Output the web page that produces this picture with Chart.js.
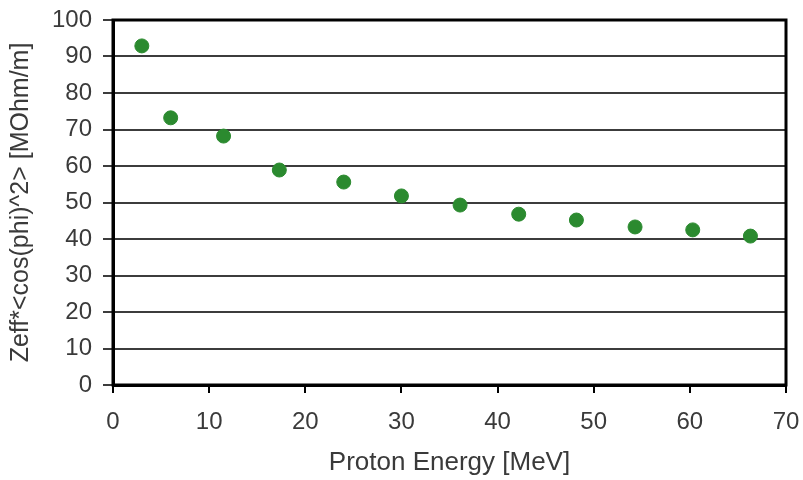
<!DOCTYPE html>
<html>
<head>
<meta charset="utf-8">
<script src="https://cdn.jsdelivr.net/npm/chart.js@4"></script>
<style>
  html, body { margin: 0; padding: 0; background: #fff; }
  #wrap { width: 803px; height: 480px; }
</style>
</head>
<body>
<div id="wrap"><canvas id="chart" width="803" height="480"></canvas></div>
<script>
// proton energy [MeV] vs shunt impedance
const energies = [3.0, 6.0, 11.5, 17.3, 24.0, 30.0, 36.1, 42.2, 48.2, 54.3, 60.3, 66.3];
const zeffValues = [92.9, 73.2, 68.2, 58.9, 55.6, 51.8, 49.3, 46.8, 45.2, 43.3, 42.5, 40.8];
const xTicks = [0, 10, 20, 30, 40, 50, 60, 70];
const yTicks = [0, 10, 20, 30, 40, 50, 60, 70, 80, 90, 100];

const textColor = '#3a3a3a';
const fontFamily = '"Liberation Sans", Arial, sans-serif';

// black frame around the plot area
const framePlugin = {
    id: 'frame',
    afterDraw(chart) {
        const a = chart.chartArea;
        const ctx = chart.ctx;
        ctx.save();
        ctx.strokeStyle = '#000';
        ctx.lineWidth = 3;
        ctx.strokeRect(a.left, a.top, a.right - a.left, a.bottom - a.top);
        ctx.restore();
    }
};

// keep the label overhang from shifting the plot area
function noOverhang(scale) {
    scale.paddingTop = 0;
    scale.paddingBottom = 0;
    scale.paddingLeft = 0;
    scale.paddingRight = 0;
}

const ctx = document.getElementById('chart').getContext('2d');
new Chart(ctx, {
    type: 'scatter',
    data: {
        datasets: [{
            data: energies.map((x, i) => ({ x: x, y: zeffValues[i] })),
            backgroundColor: '#2b8a2f',
            borderColor: '#2b8a2f',
            pointRadius: 7,
            pointHoverRadius: 7
        }]
    },
    options: {
        responsive: false,
        animation: false,
        layout: { padding: { left: 6, top: 20, right: 17, bottom: 2 } },
        plugins: {
            legend: { display: false },
            tooltip: { enabled: false }
        },
        scales: {
            x: {
                type: 'linear',
                min: 0,
                max: 70,
                afterBuildTicks: scale => { scale.ticks = xTicks.map(v => ({ value: v })); },
                afterFit: scale => { scale.height = 93; noOverhang(scale); },
                grid: {
                    drawOnChartArea: false,
                    drawTicks: true,
                    tickLength: 8,
                    color: '#000',
                    lineWidth: 2
                },
                border: { display: true, color: '#000', width: 3 },
                ticks: {
                    color: textColor,
                    font: { family: fontFamily, size: 24 },
                    padding: 15,
                    maxRotation: 0
                },
                title: {
                    display: true,
                    text: 'Proton Energy [MeV]',
                    color: textColor,
                    font: { family: fontFamily, size: 26 },
                    padding: { top: 0, bottom: 0 }
                }
            },
            y: {
                min: 0,
                max: 100,
                afterBuildTicks: scale => { scale.ticks = yTicks.map(v => ({ value: v })); },
                afterFit: scale => { scale.width = 107; noOverhang(scale); },
                grid: {
                    drawTicks: true,
                    tickLength: 10,
                    color: '#3c3c3c',
                    lineWidth: 2
                },
                border: { display: true, color: '#000', width: 3 },
                ticks: {
                    color: textColor,
                    font: { family: fontFamily, size: 24 },
                    padding: 11
                },
                title: {
                    display: true,
                    text: 'Zeff*<cos(phi)^2> [MOhm/m]',
                    color: textColor,
                    font: { family: fontFamily, size: 25 },
                    padding: { top: 0, bottom: 6 }
                }
            }
        }
    },
    plugins: [framePlugin]
});
</script>
</body>
</html>
